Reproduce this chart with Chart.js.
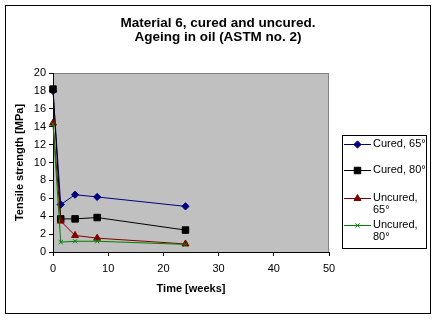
<!DOCTYPE html>
<html>
<head>
<meta charset="utf-8">
<script src="https://cdn.jsdelivr.net/npm/chart.js@4/dist/chart.umd.min.js"></script>
<style>
  html, body { margin: 0; padding: 0; background: #fff; }
  #wrap { width: 436px; height: 325px; position: relative; }
</style>
</head>
<body>
<div id="wrap"><canvas id="c" width="436" height="325"></canvas></div>
<script>
const titleLines = ["Material 6, cured and uncured.", "Ageing in oil (ASTM no. 2)"];
const xTitle = "Time [weeks]";
const yTitle = "Tensile strength [MPa]";
const weeks = [0, 1.4, 4, 8, 24];
const cured65 = [18.0, 5.3, 6.4, 6.15, 5.1];
const cured80 = [18.2, 3.7, 3.7, 3.85, 2.45];
const uncured65 = [14.4, 3.45, 1.85, 1.55, 0.9];
const uncured80 = [14.3, 1.1, 1.2, 1.2, 0.85];
const seriesNames = [["Cured, 65°"], ["Cured, 80°"], ["Uncured,", "65°"], ["Uncured,", "80°"]];
const xTicks = [0, 10, 20, 30, 40, 50];
const yTicks = [0, 2, 4, 6, 8, 10, 12, 14, 16, 18, 20];

const pts = vals => weeks.map((w, i) => ({x: w, y: vals[i]}));

const FONT = "'Liberation Sans', Arial, sans-serif";

const datasets = [
  {label: seriesNames[0].join(' '), data: pts(cured65), borderColor: '#000080', backgroundColor: '#000080',
   pointStyle: 'rectRot', pointRadius: 3.6, order: 4},
  {label: seriesNames[1].join(' '), data: pts(cured80), borderColor: '#000000', backgroundColor: '#000000',
   pointStyle: 'rect', pointRadius: 4.6, order: 3},
  {label: seriesNames[2].join(' '), data: pts(uncured65), borderColor: '#800000', backgroundColor: '#800000',
   pointStyle: 'triangle', pointRadius: 4, order: 2},
  {label: seriesNames[3].join(' '), data: pts(uncured80), borderColor: '#008000', backgroundColor: '#008000',
   pointStyle: 'crossRot', pointRadius: 3, order: 1}
].map(d => Object.assign({showLine: true, clip: false, borderWidth: 1, pointBorderWidth: 1, tension: 0, pointHoverRadius: 4}, d));

const framePlugin = {
  id: 'frame',
  beforeDraw(chart) {
    const {ctx, chartArea: a} = chart;
    ctx.save();
    ctx.fillStyle = '#ffffff';
    ctx.fillRect(0, 0, chart.width, chart.height);
    ctx.strokeStyle = '#000000';
    ctx.lineWidth = 1;
    ctx.strokeRect(5.5, 5.5, 425, 308);
    ctx.fillStyle = '#c0c0c0';
    ctx.fillRect(a.left, a.top, a.right - a.left, a.bottom - a.top);
    ctx.strokeStyle = '#808080';
    ctx.strokeRect(a.left + 0.5, a.top + 0.5, a.right - a.left - 1, a.bottom - a.top);
    // title
    ctx.fillStyle = '#000';
    ctx.font = 'bold 13.5px ' + FONT;
    ctx.textAlign = 'center';
    ctx.textBaseline = 'middle';
    ctx.fillText(titleLines[0], 218, 23);
    ctx.fillText(titleLines[1], 218, 37);
    ctx.restore();
  },
  afterDraw(chart) {
    const {ctx} = chart;
    ctx.save();
    // legend box
    ctx.fillStyle = '#ffffff';
    ctx.fillRect(342, 135, 84, 113);
    ctx.strokeStyle = '#000';
    ctx.lineWidth = 1;
    ctx.strokeRect(342.5, 135.5, 84, 113);
    const rows = [144, 170, 198, 225];
    ctx.font = '11px ' + FONT;
    ctx.textAlign = 'left';
    ctx.textBaseline = 'middle';
    chart.data.datasets.forEach((ds, i) => {
      const y = rows[i];
      ctx.strokeStyle = ds.borderColor;
      ctx.lineWidth = 1;
      ctx.beginPath();
      ctx.moveTo(344, y + 0.5);
      ctx.lineTo(371, y + 0.5);
      ctx.stroke();
      ctx.fillStyle = ds.backgroundColor;
      Chart.helpers.drawPoint(ctx, {pointStyle: ds.pointStyle, radius: ds.pointRadius, borderWidth: 1, rotation: 0}, 357.5, y + 0.5);
      ctx.fillStyle = '#000';
      seriesNames[i].forEach((t, k) => ctx.fillText(t, 373, y + k * 12));
    });
    ctx.restore();
  }
};

new Chart(document.getElementById('c'), {
  type: 'scatter',
  data: {datasets},
  plugins: [framePlugin],
  options: {
    responsive: false,
    animation: false,
    events: [],
    layout: {padding: {left: 0, right: 107, top: 73, bottom: 0}},
    plugins: {legend: {display: false}, title: {display: false}, tooltip: {enabled: false}},
    scales: {
      x: {
        type: 'linear', min: 0, max: 50,
        afterFit: s => { s.height = 73; },
        afterBuildTicks: s => { s.ticks = xTicks.map(v => ({value: v})); },
        ticks: {color: '#000', font: {family: FONT, size: 11}, padding: 6, maxRotation: 0, autoSkip: false},
        grid: {drawOnChartArea: false, drawTicks: true, tickLength: 4, color: '#000'},
        border: {display: true, color: '#000', width: 1},
        title: {display: true, text: xTitle, color: '#000', font: {family: FONT, size: 11, weight: 'bold'}, padding: {top: 0, bottom: 29}}
      },
      y: {
        type: 'linear', min: 0, max: 20,
        afterFit: s => { s.width = 53; },
        afterBuildTicks: s => { s.ticks = yTicks.map(v => ({value: v})); },
        ticks: {color: '#000', font: {family: FONT, size: 11}, padding: 3, autoSkip: false},
        grid: {drawOnChartArea: false, drawTicks: true, tickLength: 4, color: '#000'},
        border: {display: true, color: '#000', width: 1},
        title: {display: true, text: yTitle, color: '#000', font: {family: FONT, size: 11, weight: 'bold'}, padding: {top: 13, bottom: 0}}
      }
    }
  }
});
</script>
</body>
</html>
